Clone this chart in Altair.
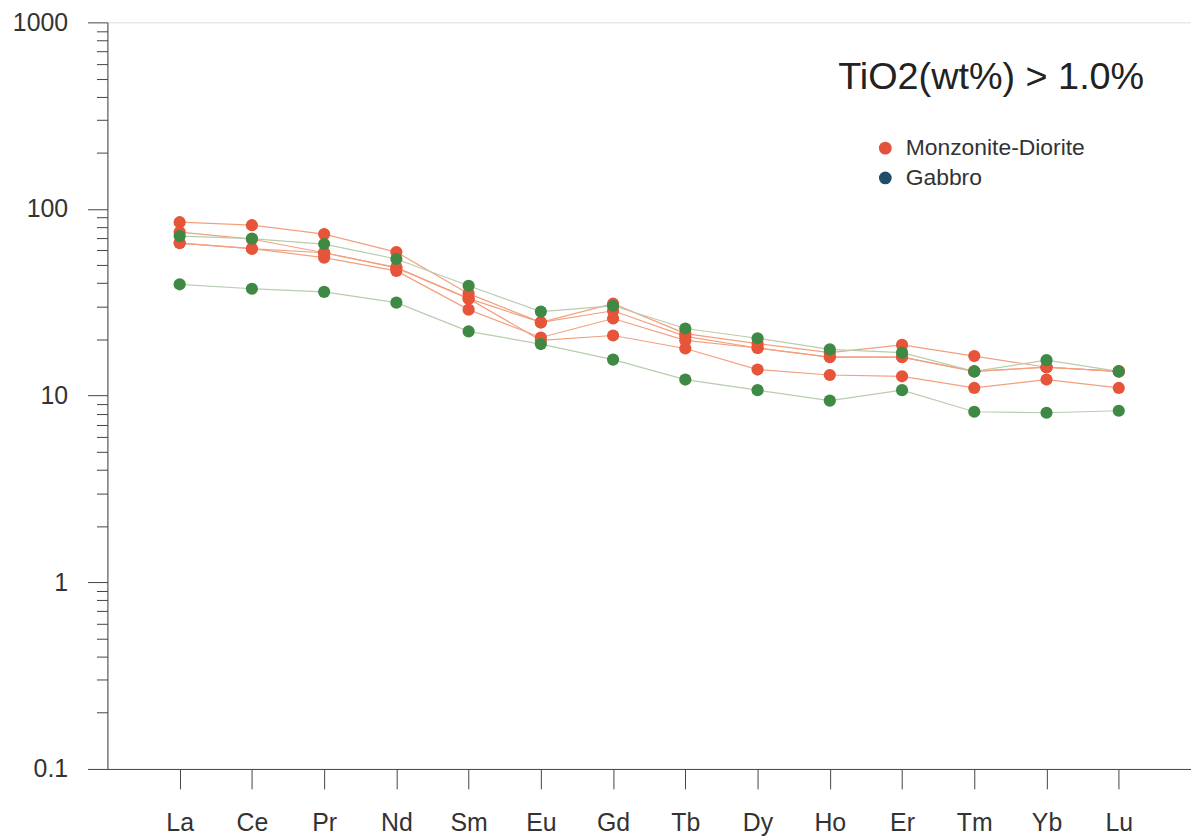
import altair as alt
import pandas as pd

elements = ["La", "Ce", "Pr", "Nd", "Sm", "Eu", "Gd", "Tb", "Dy", "Ho", "Er", "Tm", "Yb", "Lu"]

# Monzonite-Diorite samples (chondrite-normalised)
md_1 = [85.0, 81.9, 73.4, 58.8, 35.2, 24.7, 31.1, 21.5, 19.0, 17.0, 18.7, 16.3, 14.2, 13.5]
md_2 = [75.2, 69.0, 58.3, 48.5, 33.1, 24.7, 28.5, 20.8, 18.0, 16.1, 16.1, 13.5, 14.2, 13.5]
md_3 = [65.7, 61.3, 54.9, 46.6, 28.9, 20.5, 25.9, 19.8, 18.0, 16.1, 16.1, 13.5, 14.2, 13.5]
md_4 = [65.7, 61.3, 58.3, 48.5, 33.1, 19.8, 21.0, 17.9, 13.8, 12.9, 12.7, 11.0, 12.2, 11.0]

# Gabbro samples
gb_1 = [71.6, 69.4, 64.9, 54.0, 38.8, 28.2, 30.3, 22.9, 20.3, 17.7, 17.0, 13.5, 15.5, 13.5]
gb_2 = [39.5, 37.4, 36.0, 31.5, 22.1, 18.9, 15.6, 12.2, 10.7, 9.4, 10.7, 8.2, 8.1, 8.3]

groups = ["Monzonite-Diorite", "Gabbro"]
title_text = "TiO2(wt%) > 1.0%"

samples = [
    ("MD-1", groups[0], md_1),
    ("MD-2", groups[0], md_2),
    ("MD-3", groups[0], md_3),
    ("MD-4", groups[0], md_4),
    ("GB-1", groups[1], gb_1),
    ("GB-2", groups[1], gb_2),
]

rows = []
for order, (sid, grp, vals) in enumerate(samples):
    for el, v in zip(elements, vals):
        rows.append({"sample": sid, "group": grp, "element": el, "value": v, "order": order})
df = pd.DataFrame(rows)

FONT = "Liberation Sans"

x_enc = alt.X(
    "element:N",
    sort=elements,
    scale=alt.Scale(type="point", padding=1.02),
    axis=alt.Axis(
        title=None, labelFontSize=25, labelColor="#333", labelFont=FONT,
        tickSize=20, tickColor="#444", domainColor="#444", labelPadding=22,
        labelAngle=0, grid=False,
    ),
)

yvals = []
for d in [0.1, 1, 10, 100]:
    for m in range(1, 10):
        yvals.append(round(d * m, 6))
yvals.append(1000)

y_enc = alt.Y(
    "value:Q",
    scale=alt.Scale(type="log", domain=[0.1, 1000]),
    axis=alt.Axis(
        title=None, values=yvals, format="~g",
        labelExpr="indexof([0.1,1,10,100,1000], datum.value) >= 0 ? datum.label : ''",
        labelOverlap=False, labelFontSize=25, labelColor="#333", labelFont=FONT,
        tickColor="#444", domainColor="#444", labelPadding=20, grid=False,
        tickSize={"condition": {"test": "indexof([0.1,1,10,100,1000], datum.value) >= 0", "value": 20}, "value": 11},
    ),
)

base = alt.Chart(df)

lines = base.mark_line(strokeWidth=1.2).encode(
    x=x_enc,
    y=y_enc,
    detail="sample:N",
    color=alt.Color("group:N", scale=alt.Scale(domain=groups, range=["#f3a07f", "#b8cdae"]), legend=None),
)

points = base.mark_circle(size=150, opacity=1).encode(
    x=x_enc,
    y=y_enc,
    color=alt.Color("group:N", scale=alt.Scale(domain=groups, range=["#e6543a", "#3e8a44"]), legend=None),
    order="order:Q",
)

legend_df = pd.DataFrame({"group": groups, "element": [elements[0]] * 2, "value": [gb_1[0]] * 2})
legend_layer = alt.Chart(legend_df).mark_circle(size=150, opacity=0).encode(
    x=x_enc,
    y=y_enc,
    color=alt.Color(
        "group:N",
        scale=alt.Scale(domain=groups, range=["#e4513d", "#1f4e69"]),
        legend=alt.Legend(
            title=None, orient="none", legendX=771, legendY=115,
            labelFontSize=23, labelFont=FONT, labelColor="#333", labelLimit=500,
            symbolOpacity=1, symbolSize=165, symbolType="circle",
            symbolStrokeWidth=0, rowPadding=6, labelOffset=9,
        ),
    ),
)

title_df = pd.DataFrame({"t": [title_text]})
title_layer = alt.Chart(title_df).mark_text(
    fontSize=38, font=FONT, color="#222", align="center", baseline="middle"
).encode(text="t:N", x=alt.value(889), y=alt.value(56))

chart = alt.layer(lines, points, legend_layer, title_layer).resolve_scale(
    color="independent"
).properties(
    width=1090, height=751,
    padding={"left": 4, "top": 0, "right": 0, "bottom": 0},
).configure_view(stroke="#555", strokeWidth=1.2).configure(background="white")

chart.save("out.html", embed_options={"renderer": "svg", "actions": False})
